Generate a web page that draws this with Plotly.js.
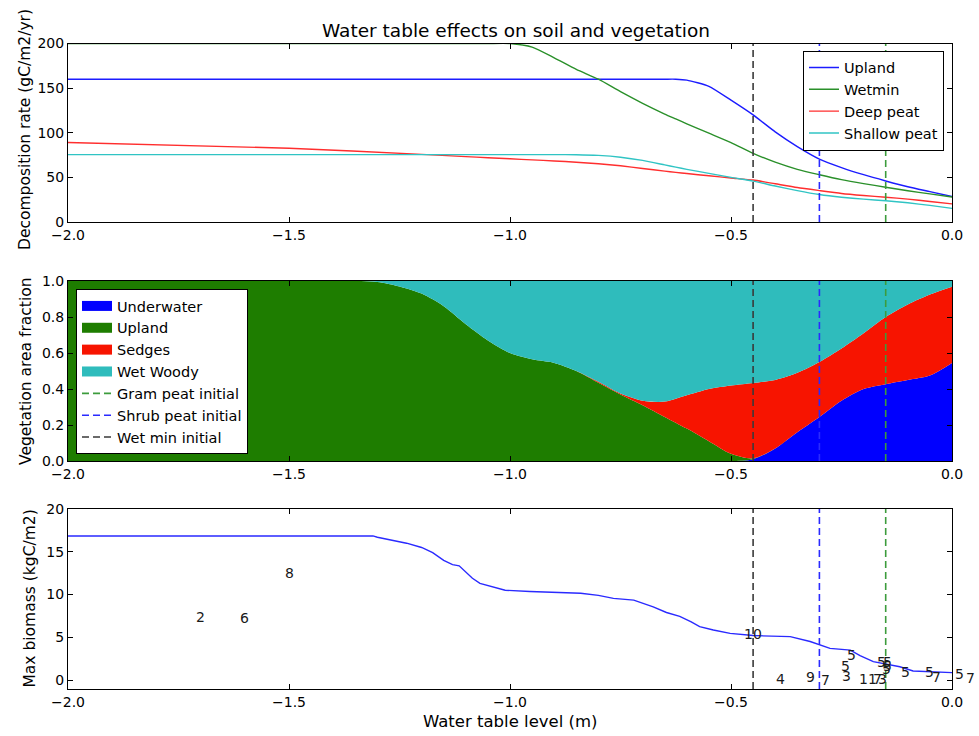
<!DOCTYPE html>
<html>
<head>
<meta charset="utf-8">
<script src="https://cdn.plot.ly/plotly-3.0.1.min.js"></script>
<style>html,body{margin:0;padding:0;background:#fff;}#chart{width:979px;height:736px;}</style>
</head>
<body>
<div id="chart"></div>
<script>
// ---------- Panel 1: decomposition rate ----------
const X_DECOMP = [-2.0, -1.5, -1.2, -1.1, -1.05, -1.0, -0.95, -0.90, -0.85, -0.80, -0.75, -0.70, -0.65, -0.625, -0.60, -0.55, -0.50, -0.45, -0.40, -0.35, -0.30, -0.25, -0.20, -0.15, -0.10, -0.05, 0.0];
const UPLAND_DECOMP = [160, 160, 160, 160, 160, 160, 160, 160, 160, 160, 160, 160, 160, 160, 159, 152, 136.5, 120, 101, 84.5, 70.5, 61, 53, 46, 39.5, 34, 28.5];
const WETMIN_DECOMP = [200, 200, 200, 200, 200, 200, 196, 184, 171, 160, 146, 133, 121, 115.5, 110, 99.5, 89, 77, 67, 59, 53, 47.5, 43, 39, 35, 31.5, 28];
const DEEP_DECOMP = [89, 82.7, 75.8, 73.3, 72, 70.8, 69.6, 68.4, 67, 65.3, 63, 60, 57, 55.6, 54.3, 51.8, 49.3, 47, 42.8, 38.6, 35.2, 32, 29.7, 27.8, 25.6, 23, 20.3];
const SHALLOW_DECOMP = [75.5, 75.5, 75.5, 75.5, 75.5, 75.5, 75.5, 75.5, 75.4, 74.6, 72.6, 69, 64, 61.5, 59, 54.5, 50, 45.8, 40.3, 35.2, 30.8, 27.8, 25.6, 23.8, 21.5, 18.6, 15.3];
const DECOMP_NAMES = ['Upland', 'Wetmin', 'Deep peat', 'Shallow peat'];

// ---------- Panel 2: vegetation area fraction (stacked) ----------
const X_VEG = [-2.0, -1.5, -1.35, -1.30, -1.25, -1.20, -1.15, -1.10, -1.05, -1.00, -0.95, -0.90, -0.85, -0.80, -0.75, -0.70, -0.65, -0.60, -0.55, -0.50, -0.45, -0.40, -0.35, -0.30, -0.25, -0.20, -0.15, -0.10, -0.05, 0.0];
const UNDERWATER_FRAC = [0, 0, 0, 0, 0, 0, 0, 0, 0, 0, 0, 0, 0, 0, 0, 0, 0, 0, 0, 0, 0.01, 0.07, 0.16, 0.245, 0.335, 0.40, 0.427, 0.45, 0.475, 0.545];
const UPLAND_FRAC = [1.0, 1.0, 1.0, 0.995, 0.97, 0.93, 0.86, 0.76, 0.67, 0.60, 0.565, 0.545, 0.50, 0.435, 0.37, 0.31, 0.245, 0.18, 0.11, 0.04, 0.005, 0, 0, 0, 0, 0, 0, 0, 0, 0];
const SEDGES_FRAC = [0, 0, 0, 0, 0, 0, 0, 0, 0, 0, 0, 0, 0, 0.005, 0.005, 0.025, 0.085, 0.185, 0.29, 0.38, 0.419, 0.38, 0.33, 0.305, 0.29, 0.31, 0.373, 0.42, 0.45, 0.423];
const WETWOODY_FRAC = [0, 0, 0, 0.005, 0.03, 0.07, 0.14, 0.24, 0.33, 0.40, 0.435, 0.455, 0.50, 0.56, 0.625, 0.665, 0.67, 0.635, 0.60, 0.58, 0.566, 0.55, 0.51, 0.45, 0.375, 0.29, 0.20, 0.13, 0.075, 0.032];
const VEG_NAMES = ['Underwater', 'Upland', 'Sedges', 'Wet Woody'];

// ---------- Initial water table levels (dashed lines) ----------
const INIT_NAMES = ['Gram peat initial', 'Shrub peat initial', 'Wet min initial'];
const INIT_LEVELS = [-0.15, -0.30, -0.45];

// ---------- Panel 3: max biomass ----------
const X_BIOMASS = [-2.0, -1.31, -1.30, -1.27, -1.234, -1.20, -1.175, -1.15, -1.13, -1.115, -1.10, -1.085, -1.068, -1.04, -1.011, -0.955, -0.84, -0.80, -0.766, -0.72, -0.70, -0.676, -0.646, -0.616, -0.59, -0.571, -0.54, -0.502, -0.45, -0.366, -0.321, -0.30, -0.276, -0.23, -0.208, -0.178, -0.15, -0.118, -0.088, -0.05, 0.0];
const MAX_BIOMASS = [16.85, 16.85, 16.7, 16.4, 16.0, 15.5, 14.9, 14.0, 13.5, 13.35, 12.6, 11.9, 11.3, 10.9, 10.5, 10.35, 10.15, 9.9, 9.55, 9.35, 9.0, 8.55, 7.9, 7.45, 6.8, 6.25, 5.85, 5.45, 5.2, 5.07, 4.5, 4.1, 3.7, 3.5, 2.85, 2.15, 1.85, 1.55, 1.05, 0.97, 0.86];
const SITE_LABELS = ['2', '6', '8', '10', '4', '9', '7', '5', '5', '3', '11', '7', '3', '5', '5', '5', '5', '5', '5', '7', '5', '7'];
const SITE_X = [-1.70, -1.60, -1.50, -0.45, -0.389, -0.320, -0.287, -0.227, -0.240, -0.238, -0.19, -0.168, -0.157, -0.16, -0.145, -0.145, -0.148, -0.106, -0.051, -0.036, 0.017, 0.041];
const SITE_Y = [7.4, 7.2, 12.55, 5.35, 0.1, 0.35, 0.0, 2.9, 1.6, 0.5, 0.1, 0.1, 0.1, 2.1, 2.1, 1.6, 1.25, 0.9, 0.98, 0.3, 0.66, 0.2];

// ---------- Axis ranges & ticks ----------
const X_RANGE = [-2, 0];
const X_TICKS = [-2, -1.5, -1, -0.5, 0];
const Y1_RANGE = [0, 200], Y1_TICKS = [0, 50, 100, 150, 200];
const Y2_RANGE = [0, 1], Y2_TICKS = [0, 0.2, 0.4, 0.6, 0.8, 1.0];
const Y3_RANGE = [-1.05, 20], Y3_TICKS = [0, 5, 10, 15, 20];

// ---------- Styles ----------
const FONT = 'DejaVu Sans, Verdana, sans-serif';
const DECOMP_COLORS = ['#1c1cff', '#2a902a', '#ff2e2e', '#30c4c4'];
const VEG_COLORS = ['#0000ff', '#1e7d00', '#f71400', '#2fbcbc'];
const INIT_COLORS = ['#3c9c3c', '#2a2aff', '#3a3a3a'];

const W = 979, H = 736;
const XPIX = [68, 952];
const traces = [];

// Panel 2 stacked areas (legend entries drawn as wide swatches)
VEG_NAMES.forEach((nm, i) => {
  const ys = [UNDERWATER_FRAC, UPLAND_FRAC, SEDGES_FRAC, WETWOODY_FRAC][i];
  traces.push({
    type: 'scatter', mode: 'lines', x: X_VEG, y: ys, name: nm,
    xaxis: 'x2', yaxis: 'y2', stackgroup: 'veg',
    line: {width: 0, shape: 'spline', smoothing: 0.8},
    fillcolor: VEG_COLORS[i], showlegend: false, legendgroup: nm, hoverinfo: 'skip'
  });
});
VEG_NAMES.forEach((nm, i) => {
  traces.push({
    type: 'scatter', mode: 'lines', x: [null], y: [null], name: nm,
    xaxis: 'x2', yaxis: 'y2', line: {color: VEG_COLORS[i], width: 10},
    legend: 'legend2', legendgroup: nm, hoverinfo: 'skip'
  });
});

// Panel 1 lines
[UPLAND_DECOMP, WETMIN_DECOMP, DEEP_DECOMP, SHALLOW_DECOMP].forEach((ys, i) => {
  traces.push({
    type: 'scatter', mode: 'lines', x: X_DECOMP, y: ys, name: DECOMP_NAMES[i],
    xaxis: 'x', yaxis: 'y', line: {color: DECOMP_COLORS[i], width: 1.4, shape: 'spline', smoothing: 0.6},
    legend: 'legend'
  });
});

// Dashed lines in all panels
const panelAxes = [['x', 'y', Y1_RANGE], ['x2', 'y2', Y2_RANGE], ['x3', 'y3', Y3_RANGE]];
panelAxes.forEach((pa, p) => {
  INIT_LEVELS.forEach((lv, i) => {
    traces.push({
      type: 'scatter', mode: 'lines', x: [lv, lv], y: pa[2], name: INIT_NAMES[i],
      xaxis: pa[0], yaxis: pa[1],
      line: {color: INIT_COLORS[i], width: 1.6, dash: '7px,4px'},
      showlegend: p === 1, legend: 'legend2', hoverinfo: 'skip'
    });
  });
});

// Panel 3 line
traces.push({
  type: 'scatter', mode: 'lines', x: X_BIOMASS, y: MAX_BIOMASS, name: 'Max biomass',
  xaxis: 'x3', yaxis: 'y3', line: {color: '#2a2aff', width: 1.4}, showlegend: false
});

const XDOM = [XPIX[0] / W, XPIX[1] / W];
function xax(anchor) {
  return {
    domain: XDOM, anchor: anchor, range: X_RANGE, tickvals: X_TICKS, tickformat: '.1f',
    showline: true, linecolor: '#000', linewidth: 1, mirror: 'ticks',
    ticks: 'inside', ticklen: 5, tickcolor: '#000', tickwidth: 1,
    showgrid: false, zeroline: false, automargin: false,
    tickfont: {family: FONT, size: 14, color: '#000'}
  };
}
function yax(anchor, dom, rng, tv, fmt) {
  return {
    domain: dom, anchor: anchor, range: rng, tickvals: tv, tickformat: fmt,
    showline: true, linecolor: '#000', linewidth: 1, mirror: 'ticks',
    ticks: 'inside', ticklen: 5, tickcolor: '#000', tickwidth: 1,
    showgrid: false, zeroline: false, automargin: false,
    tickfont: {family: FONT, size: 14, color: '#000'}
  };
}
const py = v => 1 - v / H;

const annotations = [
  {text: 'Water table effects on soil and vegetation', xref: 'paper', yref: 'paper',
   x: 515.5 / W, y: py(30), xanchor: 'center', yanchor: 'middle', showarrow: false,
   font: {family: FONT, size: 18.5, color: '#000'}},
  {text: 'Decomposition rate (gC/m2/yr)', xref: 'paper', yref: 'paper', textangle: -90,
   x: 25 / W, y: py(130), xanchor: 'center', yanchor: 'middle', showarrow: false,
   font: {family: FONT, size: 15.5, color: '#000'}},
  {text: 'Vegetation area fraction', xref: 'paper', yref: 'paper', textangle: -90,
   x: 26 / W, y: py(371), xanchor: 'center', yanchor: 'middle', showarrow: false,
   font: {family: FONT, size: 15.5, color: '#000'}},
  {text: 'Max biomass (kgC/m2)', xref: 'paper', yref: 'paper', textangle: -90,
   x: 29.5 / W, y: py(599), xanchor: 'center', yanchor: 'middle', showarrow: false,
   font: {family: FONT, size: 15.5, color: '#000'}},
  {text: 'Water table level (m)', xref: 'paper', yref: 'paper',
   x: 510 / W, y: py(721), xanchor: 'center', yanchor: 'middle', showarrow: false,
   font: {family: FONT, size: 16.5, color: '#000'}}
];
// Site number labels in the biomass panel. Labels that lie just past the
// axis end (unclipped in the original) are pinned to the axis end and shifted
// by the same scale (pixels per metre) that the x axis uses.
const PX_PER_M = (XPIX[1] - XPIX[0]) / (X_RANGE[1] - X_RANGE[0]);
SITE_LABELS.forEach((t, i) => {
  const xv = SITE_X[i];
  const inside = xv <= X_RANGE[1];
  annotations.push({
    text: t, xref: 'x3', yref: 'y3', x: inside ? xv : X_RANGE[1], y: SITE_Y[i],
    xshift: inside ? 0 : (xv - X_RANGE[1]) * PX_PER_M,
    xanchor: 'center', yanchor: 'middle', showarrow: false,
    font: {family: FONT, size: 14, color: '#1a1a1a'}
  });
});

const layout = {
  width: W, height: H,
  margin: {l: 0, r: 0, t: 0, b: 0},
  paper_bgcolor: '#fff', plot_bgcolor: '#fff',
  font: {family: FONT, size: 14, color: '#000'},
  showlegend: true,
  xaxis: xax('y'),
  yaxis: yax('x', [py(222), py(43.5)], Y1_RANGE, Y1_TICKS, 'd'),
  xaxis2: xax('y2'),
  yaxis2: yax('x2', [py(461), py(281)], Y2_RANGE, Y2_TICKS, '.1f'),
  xaxis3: xax('y3'),
  yaxis3: yax('x3', [py(689), py(509)], Y3_RANGE, Y3_TICKS, 'd'),
  legend: {
    x: 944 / W, xanchor: 'right', y: py(50.5), yanchor: 'top',
    bgcolor: '#fff', bordercolor: '#000', borderwidth: 1,
    font: {family: FONT, size: 14.5, color: '#000'}, traceorder: 'normal', itemwidth: 30
  },
  legend2: {
    x: 76 / W, xanchor: 'left', y: py(289), yanchor: 'top',
    bgcolor: '#fff', bordercolor: '#000', borderwidth: 1,
    font: {family: FONT, size: 14.5, color: '#000'}, traceorder: 'normal', itemwidth: 30
  },
  annotations: annotations
};

Plotly.newPlot('chart', traces, layout, {staticPlot: true, displayModeBar: false});
</script>
</body>
</html>
